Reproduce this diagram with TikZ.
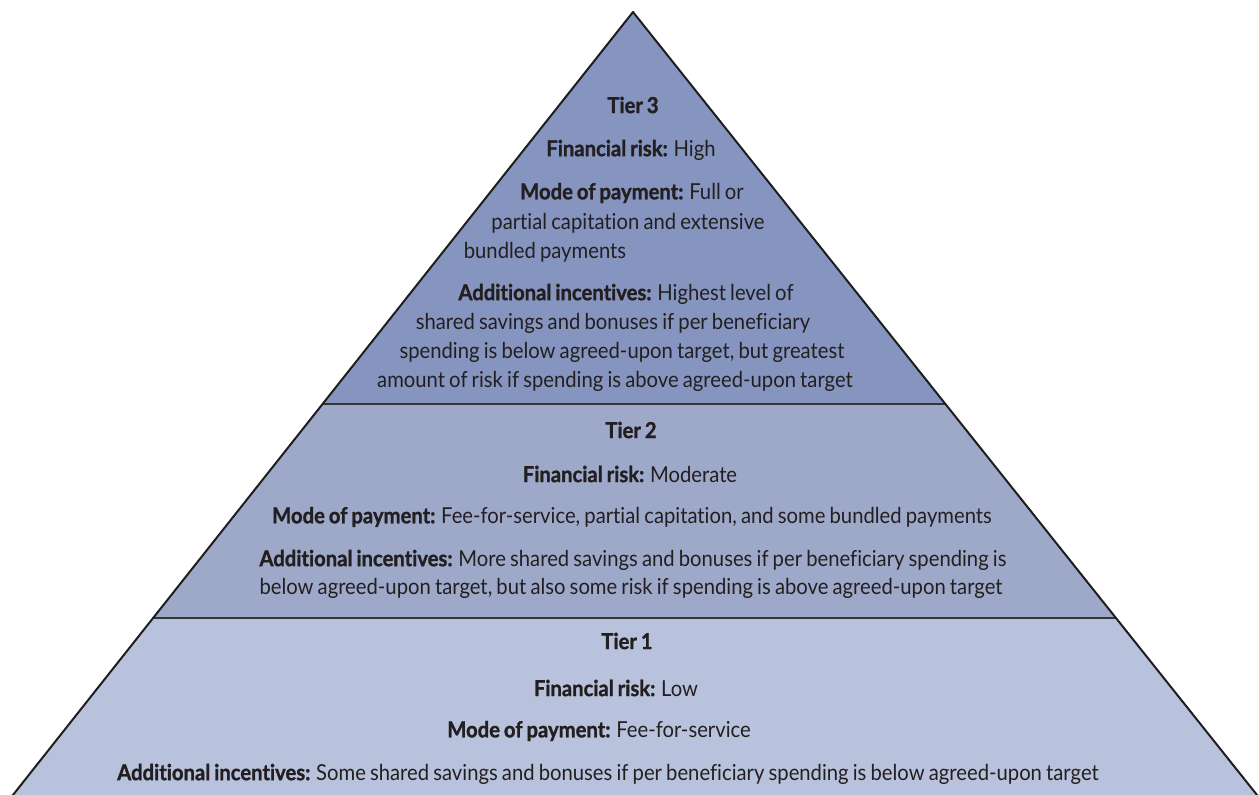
\documentclass[tikz,border=0pt]{standalone}
\usepackage{fontspec}
\setmainfont{Lato}[FakeStretch=0.92, WordSpace=0.8, Ligatures={NoCommon}, BoldFeatures={FakeBold=1.2}]
\usetikzlibrary{calc}
\definecolor{tierthree}{HTML}{8595BF}
\definecolor{tiertwo}{HTML}{9EA9CA}
\definecolor{tierone}{HTML}{B9C2DC}
\definecolor{inkc}{HTML}{231F20}
\definecolor{edgec}{HTML}{1E1E1E}
\tikzset{
  line/.style={inner sep=0pt, text=inkc, font=\fontsize{22}{26}\selectfont, anchor=center},
  edge/.style={draw=edgec, line width=2pt, line join=round},
  divider/.style={draw=edgec!90, line width=2.6pt}
}
\begin{document}
\begin{tikzpicture}[x=1pt,y=-1pt]
\useasboundingbox (0,0) rectangle (1259,795);
\coordinate (A) at (633,12);
\coordinate (BL) at (9,800);
\coordinate (BR) at (1261,800);
\coordinate (L3) at ($(A)!0.4975!(BL)$);
\coordinate (R3) at ($(A)!0.4975!(BR)$);
\coordinate (L2) at ($(A)!0.769!(BL)$);
\coordinate (R2) at ($(A)!0.769!(BR)$);
\begin{scope}
\clip (0,0) rectangle (1259,795);
\fill[tierthree] (A) -- (L3) -- (R3) -- cycle;
\fill[tiertwo] (L3) -- (L2) -- (R2) -- (R3) -- cycle;
\fill[tierone] (L2) -- (BL) -- (BR) -- (R2) -- cycle;
\draw[divider] (L3) -- (R3);
\draw[divider] (L2) -- (R2);
\draw[edge] (BL) -- (A) -- (BR);
\end{scope}
% Tier 3
\node[line] (t3) at (633,105) {\textbf{Tier 3}};
\node[line] (t3a) at (631,150) {\textbf{Financial risk:} High};
\node[line] (t3b) at (632,193) {\textbf{Mode of payment:} Full or};
\node[line] (t3c) at (628,223) {partial capitation and extensive};
\node[line] (t3d) at (545,252) {bundled payments};
\node[line] (t3e) at (626,294) {\textbf{Additional incentives:} Highest level of};
\node[line] (t3f) at (613,323) {shared savings and bonuses if per beneficiary};
\node[line] (t3g) at (622,352) {spending is below agreed-upon target, but greatest};
\node[line] (t3h) at (615,381) {amount of risk if spending is above agreed-upon target};
% Tier 2
\node[line] (t2) at (631,430) {\textbf{Tier 2}};
\node[line] (t2a) at (630,474) {\textbf{Financial risk:} Moderate};
\node[line] (t2b) at (632,517) {\textbf{Mode of payment:} Fee-for-service, partial capitation, and some bundled payments};
\node[line] (t2c) at (633,560) {\textbf{Additional incentives:} More shared savings and bonuses if per beneficiary spending is};
\node[line] (t2d) at (631,588) {below agreed-upon target, but also some risk if spending is above agreed-upon target};
% Tier 1
\node[line] (t1) at (627,641) {\textbf{Tier 1}};
\node[line] (t1a) at (616,688) {\textbf{Financial risk:} Low};
\node[line] (t1b) at (599,731) {\textbf{Mode of payment:} Fee-for-service};
\node[line] (t1c) at (608,774) {\textbf{Additional incentives:} Some shared savings and bonuses if per beneficiary spending is below agreed-upon target};
\end{tikzpicture}
\end{document}
